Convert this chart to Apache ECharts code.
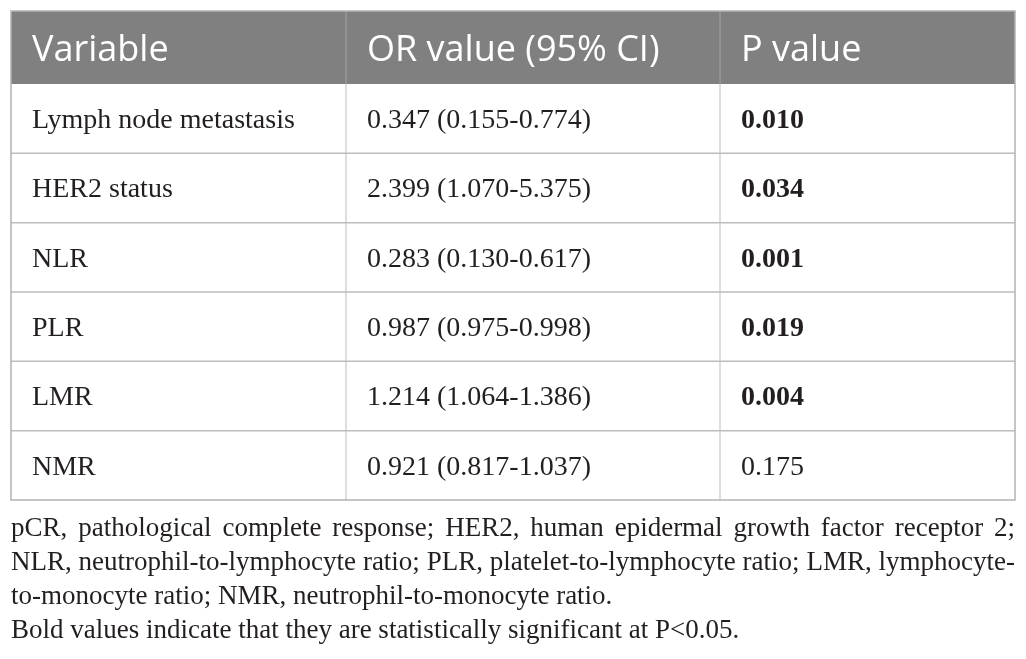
<!DOCTYPE html>
<html>
<head>
<meta charset="utf-8">
<script src="https://cdn.jsdelivr.net/npm/echarts@6/dist/echarts.min.js"></script>
<style>
html, body { margin: 0; padding: 0; background: #fff; }
#main { width: 1026px; height: 659px; }
</style>
</head>
<body>
<div id="main"></div>
<script>
// table content
var headers = ['Variable', 'OR value (95% CI)', 'P value'];
var variables = ['Lymph node metastasis', 'HER2 status', 'NLR', 'PLR', 'LMR', 'NMR'];
var orValues = ['0.347', '2.399', '0.283', '0.987', '1.214', '0.921'];
var ciLow = ['0.155', '1.070', '0.130', '0.975', '1.064', '0.817'];
var ciHigh = ['0.774', '5.375', '0.617', '0.998', '1.386', '1.037'];
var pValues = ['0.010', '0.034', '0.001', '0.019', '0.004', '0.175'];
var alpha = 0.05;

// footnote lines (first two are justified in the original)
var footLines = [
  'pCR, pathological complete response; HER2, human epidermal growth factor receptor 2;',
  'NLR, neutrophil-to-lymphocyte ratio; PLR, platelet-to-lymphocyte ratio; LMR, lymphocyte-',
  'to-monocyte ratio; NMR, neutrophil-to-monocyte ratio.',
  'Bold values indicate that they are statistically significant at P<0.05.'
];
var footJustify = [true, true, false, false];

// layout
var L = 11, R = 1015, W = R - L;
var headTop = 11, headBot = 84, tableBot = 500;
var colEdges = [0, 335, 709, W];
var pad = 21;
var serif = '"Liberation Serif", "Times New Roman", serif';
var sans = '"Open Sans", "Noto Sans", sans-serif';
var textColor = '#231f20';
var lineColor = '#bdbdbd';
var headFill = '#7f807f';

var chart = echarts.init(document.getElementById('main'), null, { renderer: 'canvas' });

var measure = document.createElement('canvas').getContext('2d');
function textWidth(s, font) {
  measure.font = font;
  return measure.measureText(s).width;
}

var graphics = [];

// header band
graphics.push({
  type: 'rect', shape: { x: L, y: headTop, width: W, height: headBot - headTop },
  style: { fill: headFill }, silent: true
});
for (var c = 1; c < colEdges.length - 1; c++) {
  graphics.push({
    type: 'line', shape: { x1: L + colEdges[c], y1: headTop, x2: L + colEdges[c], y2: headBot },
    style: { stroke: '#a3a3a3', lineWidth: 1 }, silent: true
  });
}
headers.forEach(function (h, i) {
  graphics.push({
    type: 'text', x: L + colEdges[i] + pad, y: (headTop + headBot) / 2 + 3,
    style: { text: h, fill: '#ffffff', font: '36px ' + sans, verticalAlign: 'middle', align: 'left' },
    silent: true
  });
});

// outer border
graphics.push({
  type: 'rect', shape: { x: L, y: headTop, width: W, height: tableBot - headTop },
  style: { fill: 'none', stroke: '#b3b3b3', lineWidth: 1.5 }, silent: true, z: 10
});

// footnotes
var footFont = '27px ' + serif;
var footMid = [529, 563, 597, 631];
footLines.forEach(function (line, li) {
  if (!footJustify[li]) {
    graphics.push({
      type: 'text', x: L, y: footMid[li],
      style: { text: line, fill: textColor, font: footFont, verticalAlign: 'middle' }, silent: true
    });
    return;
  }
  var words = line.split(' ');
  var widths = words.map(function (w) { return textWidth(w, footFont); });
  var total = widths.reduce(function (a, b) { return a + b; }, 0);
  var gap = (W - total) / (words.length - 1);
  var x = L;
  words.forEach(function (w, wi) {
    graphics.push({
      type: 'text', x: x, y: footMid[li],
      style: { text: w, fill: textColor, font: footFont, verticalAlign: 'middle' }, silent: true
    });
    x += widths[wi] + gap;
  });
});

function renderRow(params, api) {
  var row = api.value(1);
  var mid = api.coord([0, row]);
  var h = api.size([0, 1])[1];
  var yTop = mid[1] - h / 2;
  var children = [];
  if (row < variables.length - 1) {
    children.push({
      type: 'line', shape: { x1: L, y1: yTop + h, x2: R, y2: yTop + h },
      style: { stroke: lineColor, lineWidth: 1.5 }
    });
  }
  for (var c = 1; c < colEdges.length - 1; c++) {
    var xc = api.coord([colEdges[c], row])[0];
    children.push({
      type: 'line', shape: { x1: xc, y1: yTop, x2: xc, y2: yTop + h },
      style: { stroke: lineColor, lineWidth: 1 }
    });
  }
  var cells = [
    variables[row],
    orValues[row] + ' (' + ciLow[row] + '-' + ciHigh[row] + ')',
    pValues[row]
  ];
  cells.forEach(function (t, ci) {
    var bold = ci === 2 && parseFloat(pValues[row]) < alpha;
    children.push({
      type: 'text',
      x: api.coord([colEdges[ci], row])[0] + pad,
      y: mid[1] + 2,
      style: {
        text: t, fill: textColor,
        font: (bold ? 'bold ' : '') + '28px ' + serif,
        verticalAlign: 'middle', align: 'left'
      }
    });
  });
  return { type: 'group', children: children };
}

var option = {
  animation: false,
  backgroundColor: '#ffffff',
  grid: { left: L, top: headBot, width: W, height: tableBot - headBot },
  xAxis: { type: 'value', min: 0, max: W, show: false },
  yAxis: { type: 'category', data: variables, inverse: true, show: false },
  graphic: graphics,
  series: [{
    type: 'custom',
    renderItem: renderRow,
    silent: true,
    data: variables.map(function (v, i) { return [0, i]; })
  }]
};

chart.setOption(option);
</script>
</body>
</html>
